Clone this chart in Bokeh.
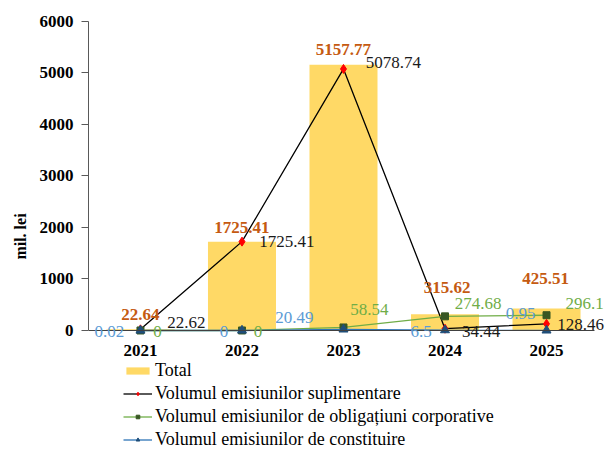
from bokeh.plotting import figure
from bokeh.models import ColumnDataSource, LabelSet, Legend, LegendItem, FixedTicker, Range1d
from bokeh.embed import file_html
from bokeh.resources import INLINE

# ---- data ----
years = ["2021", "2022", "2023", "2024", "2025"]
total = [22.64, 1725.41, 5157.77, 315.62, 425.51]
suplimentare = [22.62, 1725.41, 5078.74, 34.44, 128.46]
obligatiuni = [0, 0, 58.54, 274.68, 296.1]
constituire = [0.02, 0, 20.49, 6.5, 0.95]
y_ticks = [0, 1000, 2000, 3000, 4000, 5000, 6000]

series_names = ["Total", "Volumul emisiunilor suplimentare",
                "Volumul emisiunilor de obligațiuni corporative",
                "Volumul emisiunilor de constituire"]

# ---- label placement (screen px, up = positive) ----
total_dx = [0, 0, 0, 2, -1]
total_dy = [15, 14, 15, 27, 30]
sup_dx = [46, 45, 50, 36, 34]
sup_dy = [7, 0, 6, -3, -1]
obl_dx = [17, 16, 26, 33, 38]
obl_dy = [-1, -1, 18, 13, 12]
con_dx = [-31, -18, -49, -24, -26]
con_dy = [-1, -1, 12, -1, 17]


def fmt(v):
    s = "%.2f" % v
    return s.rstrip("0").rstrip(".")


SERIF = "Liberation Serif"
idx = list(range(len(years)))

p = figure(x_range=Range1d(-0.512, 4.581), y_range=Range1d(-2350, 6000),
           width=605, height=451, output_backend="svg", toolbar_location=None,
           min_border_left=88, min_border_right=0, min_border_top=21,
           min_border_bottom=0)
p.outline_line_color = None
p.xgrid.grid_line_color = None
p.ygrid.grid_line_color = None
p.background_fill_color = "white"

bar_src = ColumnDataSource(dict(x=idx, top=total, lab=[fmt(v) for v in total],
                                dx=total_dx, dy=total_dy))
bars = p.vbar(x="x", top="top", width=0.67, source=bar_src,
              fill_color="#FFD966", line_color=None)


def series(vals, dx, dy):
    return ColumnDataSource(dict(x=idx, y=vals, lab=[fmt(v) for v in vals], dx=dx, dy=dy))


s_sup = series(suplimentare, sup_dx, sup_dy)
s_obl = series(obligatiuni, obl_dx, obl_dy)
s_con = series(constituire, con_dx, con_dy)

l_sup = p.line("x", "y", source=s_sup, line_color="black", line_width=1.3)
m_sup = p.scatter("x", "y", source=s_sup, marker="diamond", size=9,
                  fill_color="#FF0000", line_color="#FF0000")
l_obl = p.line("x", "y", source=s_obl, line_color="#70AD47", line_width=1.3)
m_obl = p.scatter("x", "y", source=s_obl, marker="square", size=7,
                  fill_color="#385723", line_color="#385723")
l_con = p.line("x", "y", source=s_con, line_color="#2E75B6", line_width=1.3)
m_con = p.scatter("x", "y", source=s_con, marker="triangle", size=9,
                  fill_color="#1F4E79", line_color="#1F4E79")


def labels(src, ycol, color, bold=False):
    ls = LabelSet(x="x", y=ycol, text="lab", source=src,
                  x_offset="dx", y_offset="dy", text_align="center",
                  text_baseline="middle", text_font=SERIF, text_font_size="17px",
                  text_color=color, text_font_style="bold" if bold else "normal")
    p.add_layout(ls)


labels(s_sup, "y", "#1a1a1a")
labels(s_obl, "y", "#70AD47")
labels(s_con, "y", "#5B9BD5")
labels(bar_src, "top", "#C55A11", bold=True)

# axes
p.yaxis.ticker = FixedTicker(ticks=y_ticks)
p.yaxis.bounds = (0, 6000)
p.yaxis.minor_tick_line_color = None
p.yaxis.major_tick_out = 7
p.yaxis.major_tick_in = 0
p.yaxis.major_label_standoff = 8
p.yaxis.axis_line_color = "#595959"
p.yaxis.major_tick_line_color = "#595959"
p.yaxis.major_label_text_font = SERIF
p.yaxis.major_label_text_font_style = "bold"
p.yaxis.major_label_text_font_size = "17px"
p.yaxis.major_label_text_color = "black"
p.yaxis.axis_label = "mil. lei"
p.yaxis.axis_label_text_font = SERIF
p.yaxis.axis_label_text_font_style = "bold"
p.yaxis.axis_label_text_font_size = "16px"
p.yaxis.axis_label_text_color = "black"
p.yaxis.axis_label_standoff = 8

p.xaxis.fixed_location = 0
p.xaxis.ticker = FixedTicker(ticks=idx)
p.xaxis.major_label_overrides = {i: y for i, y in zip(idx, years)}
p.xaxis.bounds = (-0.512, 4.47)
p.xaxis.major_tick_line_color = None
p.xaxis.minor_tick_line_color = None
p.xaxis.major_tick_out = 0
p.xaxis.major_tick_in = 0
p.xaxis.axis_line_color = "#404040"
p.xaxis.major_label_standoff = 15
p.xaxis.major_label_text_font = SERIF
p.xaxis.major_label_text_font_style = "bold"
p.xaxis.major_label_text_font_size = "17px"
p.xaxis.major_label_text_color = "black"

legend = Legend(items=[
    LegendItem(label=series_names[0], renderers=[bars]),
    LegendItem(label=series_names[1], renderers=[l_sup, m_sup]),
    LegendItem(label=series_names[2], renderers=[l_obl, m_obl]),
    LegendItem(label=series_names[3], renderers=[l_con, m_con]),
], location=(35, 1), orientation="vertical", padding=0, margin=0,
    spacing=2, glyph_width=29, glyph_height=9, label_height=20,
    label_standoff=3, label_text_font=SERIF, label_text_font_size="18px",
    label_text_color="black", border_line_color=None, background_fill_alpha=0)
p.add_layout(legend, "center")

open("out.html", "w").write(file_html(p, INLINE))
